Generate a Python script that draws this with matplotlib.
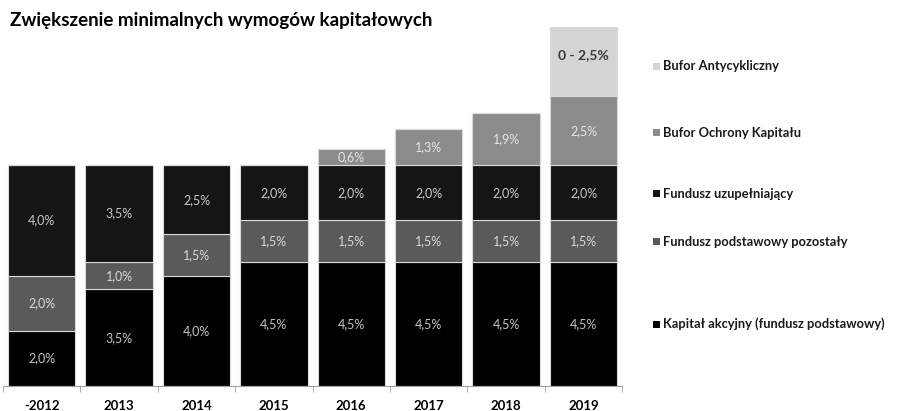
import matplotlib
matplotlib.use('Agg')
import matplotlib.pyplot as plt
from matplotlib.patches import Rectangle
import numpy as np

plt.rcParams['font.family'] = ['Lato', 'DejaVu Sans']

years = ['-2012', '2013', '2014', '2015', '2016', '2017', '2018', '2019']
kapital_akcyjny = [2.0, 3.5, 4.0, 4.5, 4.5, 4.5, 4.5, 4.5]
fundusz_pozostaly = [2.0, 1.0, 1.5, 1.5, 1.5, 1.5, 1.5, 1.5]
fundusz_uzup = [4.0, 3.5, 2.5, 2.0, 2.0, 2.0, 2.0, 2.0]
bufor_ochrony = [0, 0, 0, 0, 0.6, 1.3, 1.9, 2.5]
bufor_anty = [0, 0, 0, 0, 0, 0, 0, 2.5]
anty_labels = ['', '', '', '', '', '', '', '0 - 2,5%']

series = [
    ('Kapitał akcyjny (fundusz podstawowy)', kapital_akcyjny, '#000000', '#c4c4c4'),
    ('Fundusz podstawowy pozostały', fundusz_pozostaly, '#5a5a5a', '#d8d8d8'),
    ('Fundusz uzupełniający', fundusz_uzup, '#151515', '#c8c8c8'),
    ('Bufor Ochrony Kapitału', bufor_ochrony, '#8c8c8c', '#e4e4e4'),
    ('Bufor Antycykliczny', bufor_anty, '#d4d4d4', '#3a3a3a'),
]

fig = plt.figure(figsize=(9, 4.11), dpi=100)
ax = fig.add_axes([0.0033, 0.0608, 0.688, 0.886])

x = np.arange(len(years))
bottom = np.zeros(len(years))
for name, vals, col, tcol in series:
    vals = np.array(vals)
    ax.bar(x, vals, width=0.87, bottom=bottom, color=col,
           edgecolor='#d9d9d9', linewidth=0.8)
    for i, v in enumerate(vals):
        if v <= 0:
            continue
        if name == 'Bufor Antycykliczny':
            ax.text(x[i], bottom[i] + v / 2 + 0.25, anty_labels[i], ha='center',
                    va='center', fontsize=10, color=tcol, fontweight='bold')
        else:
            txt = f'{v:.1f}%'.replace('.', ',')
            ax.text(x[i], bottom[i] + v / 2, txt, ha='center', va='center',
                    fontsize=9, color=tcol)
    bottom += vals

ax.set_xlim(-0.5, len(years) - 0.5)
ax.set_ylim(0, 13.2)
ax.set_yticks([])
for s in ['top', 'right', 'left']:
    ax.spines[s].set_visible(False)
ax.spines['bottom'].set_color('#a0a0a0')
ax.set_xticks(x)
ax.set_xticklabels(years, fontweight='bold', fontsize=9.5)
ax.tick_params(axis='x', which='major', length=0, pad=10)
ax.set_xticks(np.arange(len(years) + 1) - 0.5, minor=True)
ax.tick_params(axis='x', which='minor', length=4, color='#a0a0a0')

fig.text(0.011, 0.951, 'Zwiększenie minimalnych wymogów kapitałowych',
         fontsize=13.5, fontweight='bold', va='center', ha='left')

# legend placed beside the stacks
legend_y = [66, 133, 194, 242, 324]
for (name, vals, col, tcol), py in zip(series[::-1], legend_y):
    fy = 1 - py / 411
    fig.add_artist(Rectangle((653 / 900, fy - 3.5 / 411), 7 / 900, 7 / 411,
                             transform=fig.transFigure, color=col, lw=0))
    fig.text(663 / 900, fy, name, fontsize=9.3, fontweight='bold',
             va='center', ha='left', color='#1a1a1a')

fig.savefig('out.png', dpi=100)
